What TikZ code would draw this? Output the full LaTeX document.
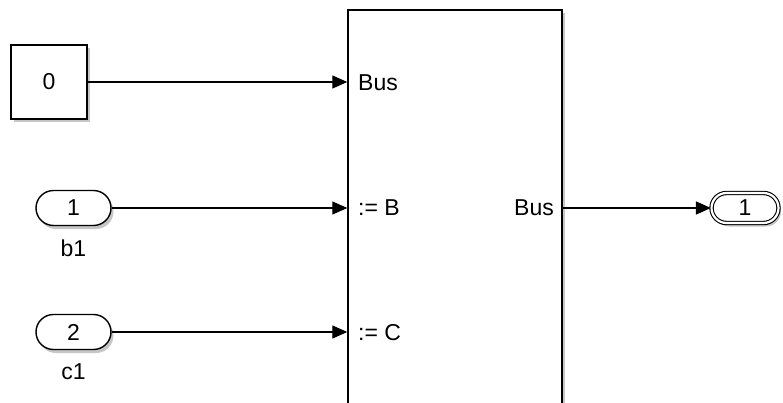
\documentclass[tikz,border=0pt]{standalone}
\usepackage{fontspec}
\setmainfont{Liberation Sans}
\usetikzlibrary{positioning}
\usetikzlibrary{arrows.meta,shapes.misc,shadows}

\tikzset{
  blk/.style={draw,line width=1.4pt,fill=white,inner sep=0pt,
    drop shadow={opacity=.45,shadow xshift=2.5pt,shadow yshift=-3.5pt}},
  inport/.style={blk,rounded rectangle,minimum width=75pt,minimum height=35pt},
  outport/.style={rounded rectangle,draw,line width=1.1pt,double,double distance=2.2pt,
    fill=white,minimum width=67pt,minimum height=30pt,inner sep=0pt,
    drop shadow={opacity=.45,shadow xshift=2.5pt,shadow yshift=-3.5pt}},
  sig/.style={line width=1.2pt,-{Triangle[length=15pt,width=13pt]}},
  portlbl/.style={inner sep=0pt}
}

\begin{document}
\begin{tikzpicture}[x=1pt,y=-1pt,font=\fontsize{23}{27}\selectfont]
\useasboundingbox (0,0) rectangle (783,403);
\clip (0,0) rectangle (783,403);
% source blocks
\node[blk,minimum width=76pt,minimum height=74pt] (const) at (49,82) {0};
\node[inport] (in1) at (73.5,208) {1};
\node[below=13pt of in1,inner sep=0pt] (b1) {b1};
\node[inport] (in2) at (73.5,332) {2};
\node[below=13pt of in2,inner sep=0pt] (c1) {c1};
% bus assignment block (runs off the bottom)
\node[blk,minimum width=214pt,minimum height=420pt] (asgn) at (455,220) {};
\node[portlbl,anchor=west] (pbus) at (358,83) {Bus};
\node[portlbl,anchor=west] (pb) at (358,208) {:= B};
\node[portlbl,anchor=west] (pc) at (358,333) {:= C};
\node[portlbl,anchor=east] (pout) at (554,208) {Bus};
% sink
\node[outport] (out1) at (745,208) {1};
% signals
\draw[sig] (const.east) -- (const.east -| asgn.west);
\draw[sig] (in1.east) -- (in1.east -| asgn.west);
\draw[sig] (in2.east) -- (in2.east -| asgn.west);
\draw[sig] (asgn.east |- out1) -- (out1.west);
\end{tikzpicture}
\end{document}
